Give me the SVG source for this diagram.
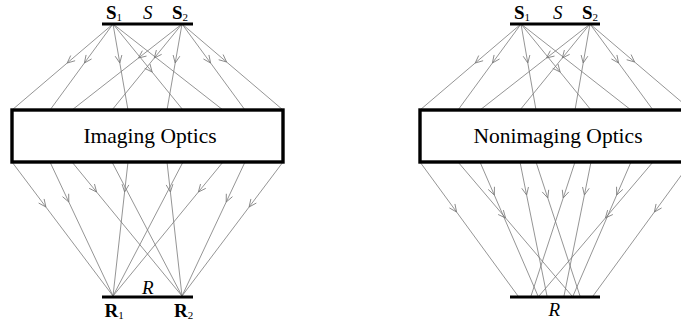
<svg xmlns="http://www.w3.org/2000/svg" width="681" height="326" viewBox="0 0 681 326">
<style>
.bar{stroke:#000;stroke-width:3.2;fill:none}
.box{stroke:#000;stroke-width:3.4;fill:#fff}
.ray{stroke:#7a7a7a;stroke-width:0.8;fill:none}
.arr{marker-mid:url(#chev)}
.big{font-family:"Liberation Serif","Times New Roman",serif;font-size:21.5px;fill:#000}
.lb{font-family:"Liberation Serif","Times New Roman",serif;font-size:19px;font-weight:bold;fill:#000}
.li{font-family:"Liberation Serif","Times New Roman",serif;font-size:19px;font-style:italic;fill:#000}
.sub{font-size:11px;font-weight:normal;fill:#000}
</style>
<defs>
<marker id="chev" markerUnits="userSpaceOnUse" markerWidth="16" markerHeight="16" viewBox="-8 -8 16 16" refX="0" refY="0" orient="auto" overflow="visible">
<path d="M-7.5,-3.4 L0,0 L-7.5,3.4" fill="none" stroke="#7a7a7a" stroke-width="0.8"/>
</marker>
</defs>
<rect width="681" height="326" fill="#fff"/>
<g id="connectors">
<g id="left-rays">
<path class="ray arr" d="M113,24 L67.2,63 L12,110"/>
<path class="ray arr" d="M113,24 L84.4,63 L50,110"/>
<path class="ray arr" d="M113,24 L119.8,63 L128,110"/>
<path class="ray arr" d="M113,24 L152.1,72 L183,110"/>
<path class="ray" d="M113,24 L223,110"/>
<path class="ray arr" d="M182,24 L138.5,58 L72,110"/>
<path class="ray arr" d="M182,24 L154.3,58 L112,110"/>
<path class="ray arr" d="M182,24 L175.2,63 L167,110"/>
<path class="ray arr" d="M182,24 L210.6,63 L245,110"/>
<path class="ray arr" d="M182,24 L226.6,62 L283,110"/>
<path class="ray arr" d="M12,162 L45.9,207 L113,296"/>
<path class="ray arr" d="M50,162 L68.8,202 L113,296"/>
<path class="ray arr" d="M72,162 L96.6,192 L182,296"/>
<path class="ray" d="M112,162 L182,296"/>
<path class="ray arr" d="M128,162 L124.6,192 L113,296"/>
<path class="ray arr" d="M167,162 L170.4,192 L182,296"/>
<path class="ray" d="M183,162 L113,296"/>
<path class="ray arr" d="M223,162 L198.4,192 L113,296"/>
<path class="ray arr" d="M245,162 L226.2,202 L182,296"/>
<path class="ray arr" d="M283,162 L249.1,207 L182,296"/>
</g>
<g id="right-rays">
<path class="ray arr" d="M521,24 L475.2,63 L420,110"/>
<path class="ray arr" d="M521,24 L492.4,63 L458,110"/>
<path class="ray arr" d="M521,24 L527.8,63 L536,110"/>
<path class="ray arr" d="M521,24 L560.1,72 L591,110"/>
<path class="ray" d="M521,24 L631,110"/>
<path class="ray arr" d="M590,24 L546.5,58 L480,110"/>
<path class="ray arr" d="M590,24 L562.3,58 L520,110"/>
<path class="ray arr" d="M590,24 L583.2,63 L575,110"/>
<path class="ray arr" d="M590,24 L618.6,63 L653,110"/>
<path class="ray arr" d="M590,24 L634.6,62 L691,110"/>
<path class="ray arr" d="M420,162 L456.6,212 L518,296"/>
<path class="ray arr" d="M458,162 L505.6,218 L572,296"/>
<path class="ray arr" d="M480,162 L494.3,195 L538,296"/>
<path class="ray arr" d="M520,162 L526.6,195 L547,296"/>
<path class="ray arr" d="M536,162 L547.8,198 L580,296"/>
<path class="ray arr" d="M575,162 L563.2,198 L531,296"/>
<path class="ray arr" d="M591,162 L584.4,195 L564,296"/>
<path class="ray arr" d="M631,162 L616.7,195 L573,296"/>
<path class="ray arr" d="M653,162 L605.4,218 L539,296"/>
<path class="ray arr" d="M691,162 L654.4,212 L593,296"/>
</g>
</g>
<g id="left-source">
<line class="bar" x1="102" y1="24" x2="193" y2="24"/>
<text class="lb" x="106" y="19">S<tspan class="sub" dy="2">1</tspan></text>
<text class="li" x="143" y="19">S</text>
<text class="lb" x="172" y="19">S<tspan class="sub" dy="2">2</tspan></text>
</g>
<g id="left-optics">
<rect class="box" x="12" y="110" width="271" height="52"/>
<text class="big" x="150" y="143" text-anchor="middle">Imaging Optics</text>
</g>
<g id="left-receiver">
<line class="bar" x1="102" y1="297" x2="193" y2="297"/>
<text class="li" x="142" y="293.5">R</text>
<text class="lb" x="104.5" y="316.5">R<tspan class="sub" dy="2">1</tspan></text>
<text class="lb" x="174" y="316.5">R<tspan class="sub" dy="2">2</tspan></text>
</g>
<g id="right-source">
<line class="bar" x1="510" y1="24" x2="600" y2="24"/>
<text class="lb" x="514" y="19">S<tspan class="sub" dy="2">1</tspan></text>
<text class="li" x="553" y="19">S</text>
<text class="lb" x="582" y="19">S<tspan class="sub" dy="2">2</tspan></text>
</g>
<g id="right-optics">
<rect class="box" x="420" y="110" width="271" height="52"/>
<text class="big" x="558" y="143" text-anchor="middle">Nonimaging Optics</text>
</g>
<g id="right-receiver">
<line class="bar" x1="510" y1="297" x2="600" y2="297"/>
<text class="li" x="548.5" y="315.5">R</text>
</g>
</svg>
